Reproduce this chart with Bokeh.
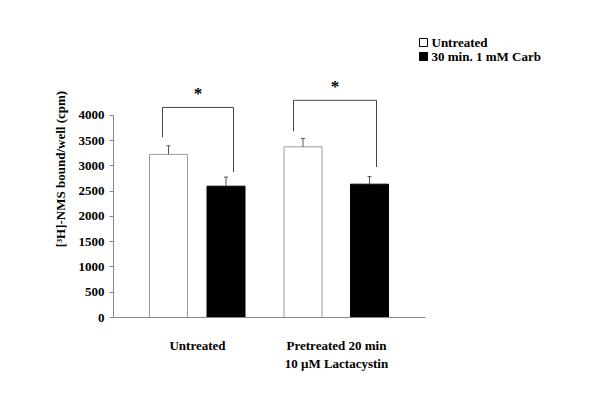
from bokeh.plotting import figure
from bokeh.models import FixedTicker, Range1d
from bokeh.core.properties import value
from bokeh.embed import file_html
from bokeh.resources import INLINE

groups = ["Untreated", "Pretreated 20 min\n10 \u03bcM Lactacystin"]
series = ["Untreated", "30 min. 1 mM Carb"]
untreated_vals = [3230, 3380]
carb_vals = [2600, 2640]
untreated_err = [170, 165]
carb_err = [180, 150]
yticks = [0, 500, 1000, 1500, 2000, 2500, 3000, 3500, 4000]

FONT = "Liberation Serif"
p = figure(width=584, height=397, output_backend="svg", toolbar_location=None,
           x_range=Range1d(0, 471), y_range=Range1d(0, 5881),
           min_border_left=113, min_border_right=0, min_border_top=20, min_border_bottom=80)
p.outline_line_color = None
p.grid.visible = False

wx = [55, 189.5]
bx = [112.5, 256]
gx = [84, 223]
bw = 38
p.vbar(x=wx, top=untreated_vals, width=bw, fill_color="white", line_color="#999999", line_width=1)
p.vbar(x=bx, top=carb_vals, width=bw, fill_color="black", line_color="black")
for xs, v, e in ((wx, untreated_vals, untreated_err), (bx, carb_vals, carb_err)):
    tops = [a + b for a, b in zip(v, e)]
    p.segment(x0=xs, y0=v, x1=xs, y1=tops, line_color="#555555", line_width=1)
    p.segment(x0=[x - 2 for x in xs], y0=tops, x1=[x + 2 for x in xs], y1=tops, line_color="#555555")

# significance brackets
lx = [49, 180]
rx = [120, 263]
ltop = [3570, 3690]
rbot = [2880, 2980]
btop = [4160, 4300]
p.segment(x0=lx, y0=ltop, x1=lx, y1=btop, line_color="#444444")
p.segment(x0=lx, y0=btop, x1=rx, y1=btop, line_color="#444444")
p.segment(x0=rx, y0=btop, x1=rx, y1=rbot, line_color="#444444")
p.text(x=[(a + b) / 2 for a, b in zip(lx, rx)], y=[b + 90 for b in btop], text=["*", "*"],
       text_font=value(FONT), text_font_style="bold", text_font_size="17px",
       text_align="center", text_baseline="bottom")

# legend
p.scatter(x=[310, 310], y=[5446, 5168], marker="square", size=8,
          fill_color=["white", "black"], line_color="black")
p.text(x=[318, 318], y=[5446, 5168], text=series, text_font=value(FONT),
       text_font_style="bold", text_font_size="13px", text_baseline="middle")

p.xaxis.bounds = (0, 312)
p.xaxis.ticker = FixedTicker(ticks=gx)
p.xaxis.major_label_overrides = {gx[0]: groups[0], gx[1]: groups[1]}
p.xaxis.minor_tick_line_color = None
p.xaxis.major_label_standoff = 14
p.yaxis.bounds = (0, 4000)
p.yaxis.ticker = FixedTicker(ticks=yticks)
p.yaxis.minor_tick_line_color = None
p.yaxis.major_tick_out = 4
p.yaxis.major_tick_in = 0
p.yaxis.axis_label = "[\u00b3H]-NMS bound/well (cpm)"
p.yaxis.axis_label_text_font_style = "bold"
p.yaxis.axis_label_text_font_size = "13px"
p.yaxis.axis_label_text_font = FONT
p.yaxis.axis_label_text_color = "black"
p.yaxis.axis_label_standoff = 8
for ax in (p.xaxis, p.yaxis):
    ax.axis_line_color = "#888888"
    ax.major_label_text_font = FONT
    ax.major_label_text_font_style = "bold"
    ax.major_label_text_font_size = "13px"
    ax.major_label_text_color = "black"
p.yaxis.major_tick_line_color = "#888888"
p.xaxis.major_tick_line_color = None

open("out.html", "w").write(file_html(p, INLINE))
